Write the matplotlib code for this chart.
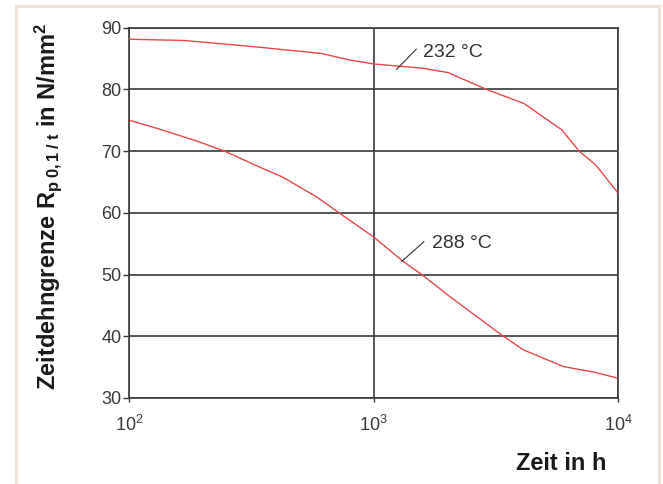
import matplotlib
matplotlib.use("Agg")
import matplotlib.pyplot as plt
from matplotlib.patches import Rectangle
from matplotlib.ticker import FixedLocator, FixedFormatter, NullLocator

plt.rcParams['font.family'] = ['Liberation Sans', 'DejaVu Sans']
plt.rcParams['mathtext.fontset'] = 'custom'
plt.rcParams['mathtext.rm'] = 'Liberation Sans'
plt.rcParams['mathtext.it'] = 'Liberation Sans:italic'
plt.rcParams['mathtext.bf'] = 'Liberation Sans:bold'

# ---- data ----
t_232 = [100, 168, 323, 610, 809, 1000, 1588, 2018, 2884, 4125, 5900, 6925, 8128, 10000]
r_232 = [88.1, 87.9, 86.9, 85.8, 84.7, 84.1, 83.4, 82.7, 80.0, 77.7, 73.4, 70.0, 67.7, 63.2]

t_288 = [100, 137, 193, 245, 351, 424, 589, 722, 1000, 1324, 1574, 2056, 2643, 3342, 4100, 5970, 8180, 10000]
r_288 = [75.0, 73.4, 71.5, 70.0, 67.2, 65.8, 62.5, 60.0, 56.1, 52.1, 50.0, 46.4, 43.2, 40.2, 37.8, 35.1, 34.1, 33.2]

x_ticks = [100, 1000, 10000]
x_tick_labels = [r'$\mathregular{10^{2}}$', r'$\mathregular{10^{3}}$', r'$\mathregular{10^{4}}$']
y_ticks = [30, 40, 50, 60, 70, 80, 90]

labels = ['232 °C', '288 °C']
label_text_pos = [(1589, 85.9), (1730, 55.1)]
leader_x = [(1242, 1496), (1303, 1607)]
leader_y = [(83.2, 86.5), (52.1, 55.3)]

# ---- figure ----
fig = plt.figure(figsize=(6.63, 4.84), dpi=100)
fig.patch.set_facecolor('white')

W, H = 663, 484
frame = Rectangle((15.5 / W, -0.1), (658.5 - 15.5) / W, 1.1 - 5.5 / H,
                  transform=fig.transFigure, fill=False,
                  edgecolor='#EDE2D8', linewidth=2.2, zorder=0)
fig.patches.append(frame)

ax = fig.add_axes([129 / W, 86 / H, (618 - 129) / W, (398 - 27.5) / H])
ax.set_xscale('log')
ax.set_xlim(100, 10000)
ax.set_ylim(30, 90)

gridc = '#3a3a3a'
ax.xaxis.set_major_locator(FixedLocator(x_ticks))
ax.xaxis.set_major_formatter(FixedFormatter(x_tick_labels))
ax.xaxis.set_minor_locator(NullLocator())
ax.set_yticks(y_ticks)
ax.grid(True, which='major', color=gridc, linewidth=1.2)
ax.set_axisbelow(True)
for s in ax.spines.values():
    s.set_color(gridc)
    s.set_linewidth(1.2)

ax.tick_params(axis='x', direction='out', length=3, width=1.0, color=gridc,
               labelsize=13, labelcolor='#3a3a3a', pad=9)
ax.tick_params(axis='y', direction='out', length=4, width=1.0, color=gridc,
               labelsize=13, labelcolor='#3a3a3a', pad=1.5)

red = '#E8474A'
ax.plot(t_232, r_232, color=red, linewidth=1.0, zorder=3)
ax.plot(t_288, r_288, color=red, linewidth=1.0, zorder=3)

for lab, (tx, ty), lx, ly in zip(labels, label_text_pos, leader_x, leader_y):
    ax.plot(lx, ly, color='#333333', linewidth=0.8, zorder=4)
    ax.text(tx, ty, lab, fontsize=14, color='#333333', ha='left', va='center', zorder=4)

fig.text(606 / W, 1 - 463 / H, 'Zeit in h', fontsize=17, fontweight='bold',
         ha='right', va='center', color='#1a1a1a')
fig.text(48 / W, 1 - 206 / H,
         r'Zeitdehngrenze R$_{\mathregular{p\;0,1\;/\;t}}$ in N/mm$^{\mathregular{2}}$',
         fontsize=17, fontweight='bold', rotation=90, ha='center', va='center',
         color='#1a1a1a')

fig.savefig('out.png', dpi=100, facecolor='white')
